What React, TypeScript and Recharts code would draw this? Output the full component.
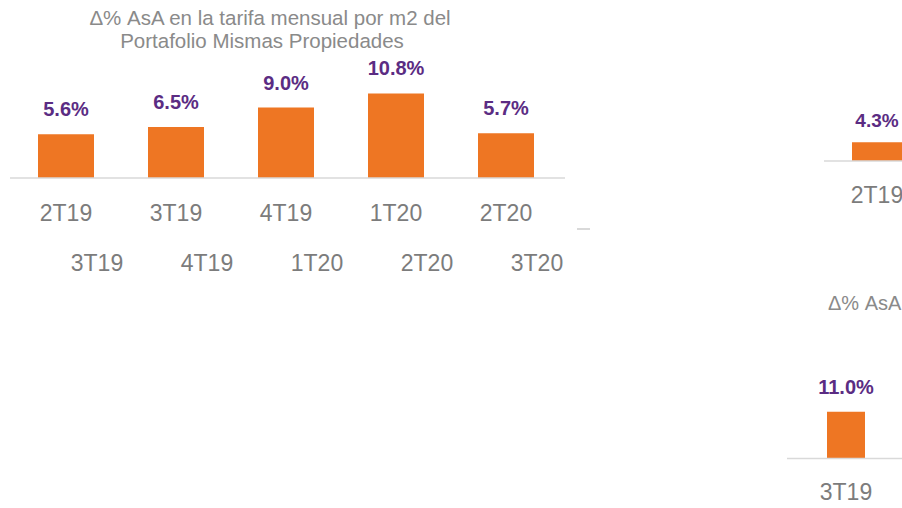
import React from 'react';
import { BarChart, Bar, XAxis, YAxis, LabelList } from 'recharts';

// Main chart data
const categories = ['2T19', '3T19', '4T19', '1T20', '2T20'];
const tarifaValues = [5.6, 6.5, 9.0, 10.8, 5.7];
const secondRowLabels = ['3T19', '4T19', '1T20', '2T20', '3T20'];

// Fragment charts (cut off at the right edge)
const fragACategories = ['2T19'];
const fragAValues = [4.3];
const fragBCategories = ['3T19'];
const fragBValues = [11.0];

const titleLine1 = 'Δ% AsA en la tarifa mensual por m2 del';
const titleLine2 = 'Portafolio Mismas Propiedades';
const fragBTitle = 'Δ% AsA';

const ORANGE = '#EE7623';
const PURPLE = '#5B2C83';
const GREY = '#7c7c7c';
const TITLE_GREY = '#8a8a8a';
const AXIS = '#d9d9d9';
const FONT = "'Liberation Sans', Arial, sans-serif";

const mainData = categories.map((q, i) => ({ q, v: tarifaValues[i] }));
const fragAData = fragACategories.map((q, i) => ({ q, v: fragAValues[i] }));
const fragBData = fragBCategories.map((q, i) => ({ q, v: fragBValues[i] }));

const fmt = (v: any) => `${Number(v).toFixed(1)}%`;

const MainTick = (props: any) => {
  const { x, y, index } = props;
  return (
    <g>
      <text x={x} y={y + 43} textAnchor="middle" fontSize={23} fill={GREY}>
        {categories[index]}
      </text>
      <text x={x + 31} y={y + 93} textAnchor="middle" fontSize={23} fill={GREY}>
        {secondRowLabels[index]}
      </text>
    </g>
  );
};

const makeTick = (labels: string[], dy: number) => (props: any) => {
  const { x, y, index } = props;
  return (
    <text x={x} y={y + dy} textAnchor="middle" fontSize={23} fill={GREY}>
      {labels[index]}
    </text>
  );
};

const FragATick = makeTick(fragACategories, 42);
const FragBTick = makeTick(fragBCategories, 41.5);

export default function App() {
  return (
    <div
      style={{
        position: 'absolute',
        left: 0,
        top: 0,
        width: 902,
        height: 508,
        overflow: 'hidden',
        background: '#ffffff',
        fontFamily: FONT,
      }}
    >
      {/* Titles and decoration */}
      <svg width={902} height={508} style={{ position: 'absolute', left: 0, top: 0 }}>
        <text x={270} y={25} textAnchor="middle" fontSize={20.5} fill={TITLE_GREY}>
          {titleLine1}
        </text>
        <text x={262} y={48} textAnchor="middle" fontSize={20.5} fill={TITLE_GREY}>
          {titleLine2}
        </text>
        <rect x={577} y={228} width={13} height={2} fill={AXIS} />
        <text x={828} y={310} textAnchor="start" fontSize={20} fill={TITLE_GREY}>
          {fragBTitle}
        </text>
      </svg>

      {/* Main chart */}
      <div style={{ position: 'absolute', left: 0, top: 0 }}>
        <BarChart
          width={600}
          height={290}
          data={mainData}
          margin={{ top: 84, right: 35, bottom: 0, left: 10 }}
        >
          <XAxis
            dataKey="q"
            axisLine={{ stroke: AXIS, strokeWidth: 1.5 }}
            tickLine={false}
            tickSize={0}
            tickMargin={0}
            height={112}
            padding={{ left: 1, right: 4 }}
            interval={0}
            tick={<MainTick />}
          />
          <YAxis hide domain={[0, 12]} />
          <Bar dataKey="v" fill={ORANGE} barSize={56} isAnimationActive={false}>
            <LabelList
              dataKey="v"
              position="top"
              offset={18}
              formatter={fmt}
              fill={PURPLE}
              fontSize={20}
              fontWeight="bold"
            />
          </Bar>
        </BarChart>
      </div>

      {/* Fragment A (cut off) */}
      <div style={{ position: 'absolute', left: 814, top: 90 }}>
        <BarChart
          width={126}
          height={130}
          data={fragAData}
          margin={{ top: 19, right: 10, bottom: 0, left: 10 }}
        >
          <XAxis
            dataKey="q"
            axisLine={{ stroke: AXIS, strokeWidth: 1.5 }}
            tickLine={false}
            tickSize={0}
            tickMargin={0}
            height={59}
            interval={0}
            tick={<FragATick />}
          />
          <YAxis hide domain={[0, 12]} />
          <Bar dataKey="v" fill={ORANGE} barSize={50} isAnimationActive={false}>
            <LabelList
              dataKey="v"
              position="top"
              offset={15}
              formatter={fmt}
              fill={PURPLE}
              fontSize={19}
              fontWeight="bold"
            />
          </Bar>
        </BarChart>
      </div>

      {/* Fragment B (cut off) */}
      <div style={{ position: 'absolute', left: 777, top: 370 }}>
        <BarChart
          width={128}
          height={138}
          data={fragBData}
          margin={{ top: 37.6, right: 0, bottom: 0, left: 10 }}
        >
          <XAxis
            dataKey="q"
            axisLine={{ stroke: AXIS, strokeWidth: 1.5 }}
            tickLine={false}
            tickSize={0}
            tickMargin={0}
            height={49.5}
            interval={0}
            tick={<FragBTick />}
          />
          <YAxis hide domain={[0, 12]} />
          <Bar dataKey="v" fill={ORANGE} barSize={38} isAnimationActive={false}>
            <LabelList
              dataKey="v"
              position="top"
              offset={18}
              formatter={fmt}
              fill={PURPLE}
              fontSize={20}
              fontWeight="bold"
            />
          </Bar>
        </BarChart>
      </div>
    </div>
  );
}
